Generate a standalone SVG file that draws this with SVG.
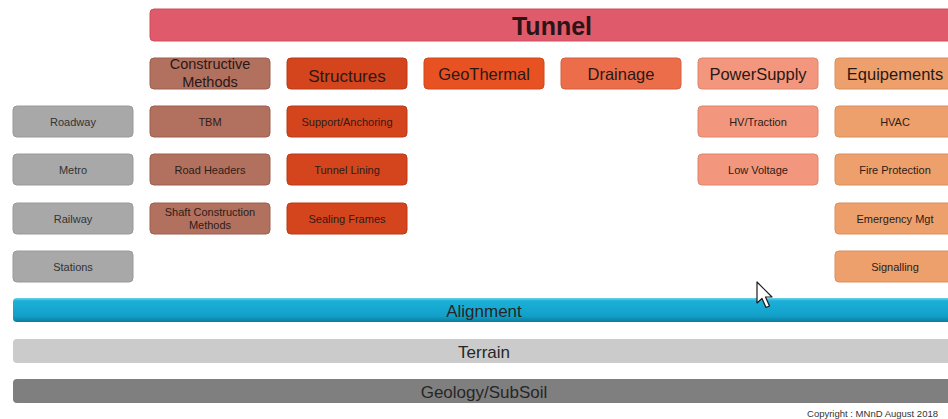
<svg xmlns="http://www.w3.org/2000/svg" width="948" height="419" viewBox="0 0 948 419">
<defs>
<linearGradient id="gAlign" x1="0" y1="0" x2="0" y2="1">
<stop offset="0" stop-color="#6fd3ea"/>
<stop offset="0.12" stop-color="#1bb0d8"/>
<stop offset="0.75" stop-color="#12a0c9"/>
<stop offset="1" stop-color="#0b7b9f"/>
</linearGradient>
<style>
text{font-family:"Liberation Sans",Arial,Helvetica,sans-serif;text-anchor:middle;}
.box{stroke-width:1;}
.hdr{font-size:16.5px;fill:#2a1816;}
.sub{font-size:11px;fill:#2e1c18;}
.gry{font-size:11px;fill:#333333;}
.bar{font-size:17px;fill:#262626;}
.cm{fill:#b2715f;stroke:#9c5f4f;}
.st{fill:#d5451d;stroke:#b93a16;}
.gt{fill:#e85222;stroke:#cf461b;}
.dr{fill:#eb6d49;stroke:#d45f3e;}
.ps{fill:#f2977d;stroke:#dd866e;}
.eq{fill:#eda06c;stroke:#d98f5f;}
.gr{fill:#a8a8a8;stroke:#999999;}
</style>
</defs>
<rect width="948" height="419" fill="#ffffff"/>

<g id="tunnel">
<rect x="150" y="9" width="806" height="32" rx="4" fill="#df5a6b" stroke="#cc4e5e" stroke-width="1"/>
<text x="552" y="35" style="font-size:25px;font-weight:bold;fill:#2a1416;">Tunnel</text>
</g>

<g id="constructive-methods">
<rect class="box cm" x="150" y="58" width="120" height="31" rx="4"/>
<text class="hdr" x="210" y="69" style="font-size:14.5px">Constructive</text>
<text class="hdr" x="210" y="87" style="font-size:14.5px">Methods</text>
</g>
<g id="structures">
<rect class="box st" x="287" y="58" width="120" height="31" rx="4"/>
<text class="hdr" x="347" y="82" style="font-size:17px">Structures</text>
</g>
<g id="geothermal">
<rect class="box gt" x="424" y="58" width="120" height="31" rx="4"/>
<text class="hdr" x="484" y="79.5">GeoThermal</text>
</g>
<g id="drainage">
<rect class="box dr" x="561" y="58" width="120" height="31" rx="4"/>
<text class="hdr" x="621" y="79.5">Drainage</text>
</g>
<g id="powersupply">
<rect class="box ps" x="698" y="58" width="120" height="31" rx="4"/>
<text class="hdr" x="758" y="79.5">PowerSupply</text>
</g>
<g id="equipements">
<rect class="box eq" x="835" y="58" width="120" height="31" rx="4"/>
<text class="hdr" x="895" y="79.5">Equipements</text>
</g>

<g id="roadway">
<rect class="box gr" x="13" y="106" width="120" height="31" rx="4"/>
<text class="gry" x="73" y="125.5">Roadway</text>
</g>
<g id="metro">
<rect class="box gr" x="13" y="154" width="120" height="31" rx="4"/>
<text class="gry" x="73" y="173.5">Metro</text>
</g>
<g id="railway">
<rect class="box gr" x="13" y="203" width="120" height="31" rx="4"/>
<text class="gry" x="73" y="222.5">Railway</text>
</g>
<g id="stations">
<rect class="box gr" x="13" y="251" width="120" height="31" rx="4"/>
<text class="gry" x="73" y="270.5">Stations</text>
</g>

<g id="tbm">
<rect class="box cm" x="150" y="106" width="120" height="31" rx="4"/>
<text class="sub" x="210" y="125.5">TBM</text>
</g>
<g id="road-headers">
<rect class="box cm" x="150" y="154" width="120" height="31" rx="4"/>
<text class="sub" x="210" y="173.5">Road Headers</text>
</g>
<g id="shaft-construction-methods">
<rect class="box cm" x="150" y="203" width="120" height="31" rx="4"/>
<text class="sub" x="210" y="216">Shaft Construction</text>
<text class="sub" x="210" y="229">Methods</text>
</g>

<g id="support-anchoring">
<rect class="box st" x="287" y="106" width="120" height="31" rx="4"/>
<text class="sub" x="347" y="125.5">Support/Anchoring</text>
</g>
<g id="tunnel-lining">
<rect class="box st" x="287" y="154" width="120" height="31" rx="4"/>
<text class="sub" x="347" y="173.5">Tunnel Lining</text>
</g>
<g id="sealing-frames">
<rect class="box st" x="287" y="203" width="120" height="31" rx="4"/>
<text class="sub" x="347" y="222.5">Sealing Frames</text>
</g>

<g id="hv-traction">
<rect class="box ps" x="698" y="106" width="120" height="31" rx="4"/>
<text class="sub" x="758" y="125.5">HV/Traction</text>
</g>
<g id="low-voltage">
<rect class="box ps" x="698" y="154" width="120" height="31" rx="4"/>
<text class="sub" x="758" y="173.5">Low Voltage</text>
</g>

<g id="hvac">
<rect class="box eq" x="835" y="106" width="120" height="31" rx="4"/>
<text class="sub" x="895" y="125.5">HVAC</text>
</g>
<g id="fire-protection">
<rect class="box eq" x="835" y="154" width="120" height="31" rx="4"/>
<text class="sub" x="895" y="173.5">Fire Protection</text>
</g>
<g id="emergency-mgt">
<rect class="box eq" x="835" y="203" width="120" height="31" rx="4"/>
<text class="sub" x="895" y="222.5">Emergency Mgt</text>
</g>
<g id="signalling">
<rect class="box eq" x="835" y="251" width="120" height="31" rx="4"/>
<text class="sub" x="895" y="270.5">Signalling</text>
</g>

<g id="alignment">
<rect x="13" y="298" width="943" height="24" rx="4" fill="url(#gAlign)"/>
<text class="bar" x="484" y="316.5">Alignment</text>
</g>
<g id="terrain">
<rect x="13" y="339" width="943" height="24" rx="4" fill="#cbcbcb"/>
<text class="bar" x="484" y="357.5">Terrain</text>
</g>
<g id="geology-subsoil">
<rect x="13" y="379" width="943" height="24" rx="4" fill="#7f7f7f"/>
<text class="bar" x="484" y="397.5">Geology/SubSoil</text>
</g>

<text x="938" y="417" style="font-size:9.5px;fill:#333;text-anchor:end;">Copyright : MNnD August 2018</text>

<path d="M757 282 L757 303 L762 298.5 L766 307.5 L769.5 306 L765.5 297 L772 297 Z" fill="#ffffff" stroke="#1a1a1a" stroke-width="1.2" stroke-linejoin="round"/>
</svg>
